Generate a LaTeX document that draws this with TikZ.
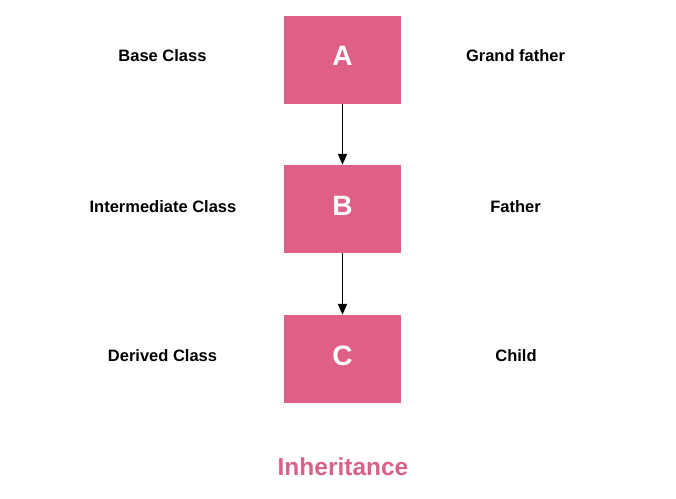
\documentclass[tikz,border=0pt]{standalone}
\usepackage{fontspec}
\setmainfont{Liberation Sans}
\usetikzlibrary{arrows.meta}
\definecolor{boxpink}{RGB}{222,96,135}
\definecolor{titlepink}{RGB}{217,98,139}
\begin{document}
\begin{tikzpicture}[x=1pt,y=-1pt,
  cls/.style={draw=none,fill=boxpink,minimum width=117pt,minimum height=88pt,inner sep=0pt,text=white,font=\bfseries\fontsize{28}{32}\selectfont},
  lbl/.style={font=\bfseries\fontsize{16.5}{20}\selectfont,text=black},
  arr/.style={-{Triangle[length=11pt,width=9pt]},line width=1.5pt,black}]
\useasboundingbox[fill=white] (0,0) rectangle (676,498);
\node[cls] (A) at (342.5,59.5) {\raisebox{7pt}{A}};
\node[cls] (B) at (342.5,209) {\raisebox{7pt}{B}};
\node[cls] (C) at (342.5,359) {\raisebox{7pt}{C}};
\draw[arr] (A.south) -- (B.north);
\draw[arr] (B.south) -- (C.north);
\node[lbl] (la) at (162.5,56) {Base Class};
\node[lbl] (lb) at (163,207) {Intermediate Class};
\node[lbl] (lc) at (162.5,356) {Derived Class};
\node[lbl] (ra) at (515.5,56) {Grand father};
\node[lbl] (rb) at (515.5,207) {Father};
\node[lbl] (rc) at (516,356) {Child};
\node[font=\bfseries\fontsize{24.5}{28}\selectfont,text=titlepink] (t) at (343,467) {Inheritance};
\end{tikzpicture}
\end{document}
